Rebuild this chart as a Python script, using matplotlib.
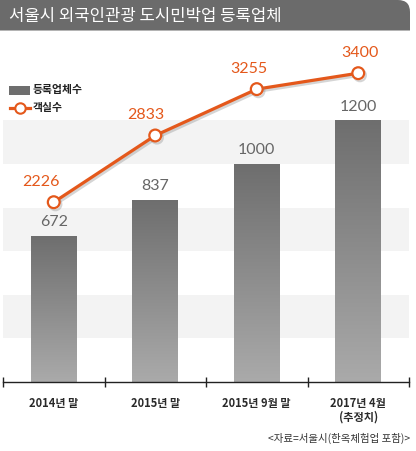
import numpy as np
import matplotlib
matplotlib.use("Agg")
import matplotlib.pyplot as plt
from matplotlib.path import Path
from matplotlib.patches import PathPatch, Rectangle
import matplotlib.patheffects as pe
from matplotlib.lines import Line2D

plt.rcParams['font.family'] = ['Noto Sans CJK KR', 'DejaVu Sans']

# ---- data ----
title = "서울시 외국인관광 도시민박업 등록업체"
categories = ["2014년 말", "2015년 말", "2015년 9월 말", "2017년 4월\n(추정치)"]
businesses = [672, 837, 1000, 1200]      # 등록업체수 (bars)
rooms = [2226, 2833, 3255, 3400]         # 객실수 (line)
legend_labels = ["등록업체수", "객실수"]
source = "<자료=서울시(한옥체험업 포함)>"

# ---- style ----
W, H = 416, 451
DPI = 100
ORANGE = "#e4581b"
BAR_TOP = "#6e6e6e"
BAR_BOT = "#aaaaaa"
BAND = "#f3f3f3"
NUM_FONT = ['Lato', 'DejaVu Sans']

fig = plt.figure(figsize=(W / DPI, H / DPI), dpi=DPI)

# main axes: pixel x 3..409, y 30..382 (top-down)
x0, x1, ytop, ybot = 3, 409, 30, 382
ax = fig.add_axes([x0 / W, (H - ybot) / H, (x1 - x0) / W, (ybot - ytop) / H])
ax.set_facecolor("none")

# background bands every 200 units
for lo in (200, 600, 1000):
    ax.axhspan(lo, lo + 200, color=BAND, zorder=0, lw=0)

# gradient bars
x = np.arange(len(categories))
bw = 0.45
bars = ax.bar(x, businesses, width=bw, color="none", zorder=2)
grad = np.linspace(0, 1, 256).reshape(-1, 1)
cmap = matplotlib.colors.LinearSegmentedColormap.from_list("g", [BAR_BOT, BAR_TOP])
for rect, xi, v in zip(bars, x, businesses):
    im = ax.imshow(grad, extent=(xi - bw / 2, xi + bw / 2, 0, v), origin="lower",
                   cmap=cmap, aspect="auto", zorder=2)
    im.set_clip_path(rect)
    ax.annotate(str(v), xy=(xi, v), xytext=(0, 10), textcoords="offset points",
                ha="center", va="center", fontsize=11.5, color="#666666",
                family=NUM_FONT, fontweight="normal", zorder=5)

ax.set_xlim(-0.5, len(categories) - 0.5)
ax.set_ylim(0, 1615)

# axis styling
for s in ("top", "right", "left"):
    ax.spines[s].set_visible(False)
ax.spines["bottom"].set_color("#222222")
ax.spines["bottom"].set_linewidth(1.0)
ax.set_yticks([])
ax.set_xticks(np.arange(len(categories) + 1) - 0.5)
ax.set_xticklabels([])
ax.tick_params(axis="x", direction="inout", length=7, width=1.0, color="#222222")
for xi, lab in zip(x, categories):
    ax.annotate(lab, xy=(xi, 0), xycoords="data", xytext=(0, -10.5),
                textcoords="offset points", ha="center", va="top",
                fontsize=8, fontweight="bold", color="#2a2a2a", linespacing=1.05,
                annotation_clip=False)

# line on twin axis
ax2 = ax.twinx()
ax2.set_ylim(590, 3793)
ax2.axis("off")
ax2.plot(x, rooms, color=ORANGE, lw=2.3, marker="o", ms=8.5, mfc="white",
         mec=ORANGE, mew=1.6, zorder=4, solid_capstyle="round",
         path_effects=[pe.SimpleLineShadow(offset=(1.2, -1.5), shadow_color="#888888", alpha=0.35),
                       pe.Normal()])
label_dx = [-9, -7, -6, 1]
for xi, v, dx in zip(x, rooms, label_dx):
    ax2.annotate(str(v), xy=(xi, v), xytext=(dx, 14.5), textcoords="offset points",
                 ha="center", va="center", fontsize=11.5, color=ORANGE,
                 family=NUM_FONT, fontweight="normal")

# overlay in pixel coords (top-down)
ov = fig.add_axes([0, 0, 1, 1])
ov.set_xlim(0, W)
ov.set_ylim(H, 0)
ov.axis("off")
ov.set_facecolor("none")

# title bar with rounded top-right corner
r = 12
verts = [(0, 30.5), (410, 30.5), (410, r), (410, 0), (410 - r, 0), (0, 0), (0, 30.5)]
codes = [Path.MOVETO, Path.LINETO, Path.LINETO, Path.CURVE3, Path.CURVE3, Path.LINETO, Path.CLOSEPOLY]
ov.add_patch(PathPatch(Path(verts, codes), facecolor="#6b6b6b", edgecolor="none"))
ov.text(9, 16, title, color="white", fontsize=12, ha="left", va="center")

# legend
ov.add_patch(Rectangle((9, 86), 21, 9, facecolor="#6e6e6e", edgecolor="none"))
ov.text(33, 90.5, legend_labels[0], fontsize=7.8, fontweight="bold", color="#222222",
        ha="left", va="center")
ov.add_line(Line2D([10, 30], [108, 108], color=ORANGE, lw=2.3))
ov.add_line(Line2D([20], [108], marker="o", ms=7.5, mfc="white", mec=ORANGE, mew=1.5))
ov.text(33, 108, legend_labels[1], fontsize=7.8, fontweight="bold", color="#222222",
        ha="left", va="center")

# source
ov.text(410, 438, source, fontsize=7.5, color="#333333", ha="right", va="center")

fig.savefig("out.png", dpi=DPI)
